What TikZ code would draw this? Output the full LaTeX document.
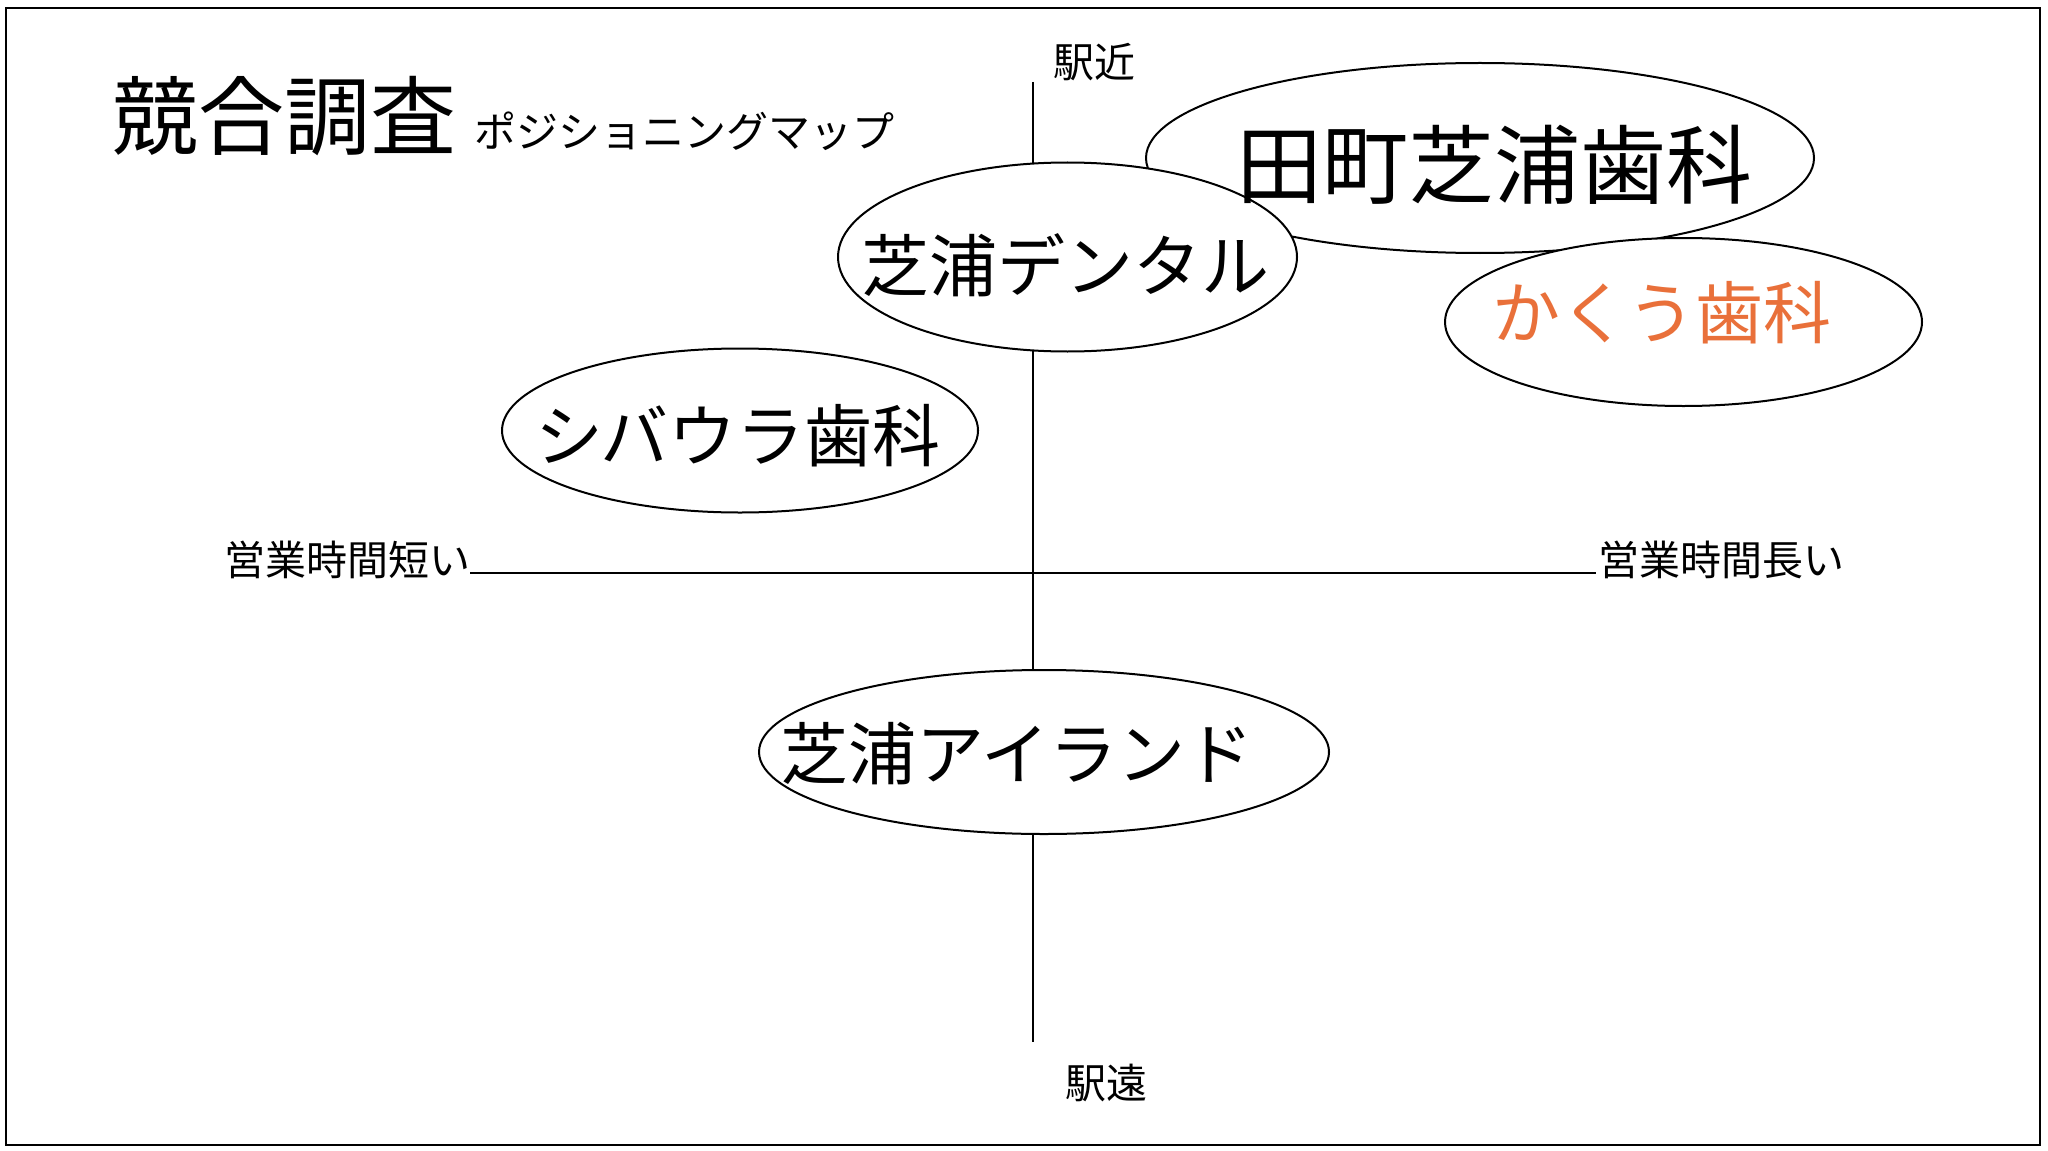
\documentclass[tikz,border=0pt]{standalone}
\usepackage{fontspec}
\newfontfamily\jp{Noto Sans CJK JP}
\usetikzlibrary{shapes.geometric}
\definecolor{kakuorange}{RGB}{233,112,58}
\begin{document}
\begin{tikzpicture}[x=0.5pt,y=-0.5pt,
  oval/.style={ellipse,draw=black,line width=1pt,fill=white,inner sep=0pt},
  bigtxt/.style={font=\jp\fontsize{43}{50}\selectfont,inner sep=0pt,anchor=center},
  midtxt/.style={font=\jp\fontsize{34}{40}\selectfont,inner sep=0pt,anchor=center},
  smalltxt/.style={font=\jp\fontsize{20.5}{24}\selectfont,inner sep=0pt,anchor=center},
  axis/.style={line width=0.75pt,black}]
\useasboundingbox (0,0) rectangle (2048,1150);
\fill[white] (0,0) rectangle (2048,1150);
\draw[line width=1.1pt] (6,8) rectangle (2040,1145);
% axes
\coordinate (vtop) at (1033,82);
\coordinate (vbot) at (1033,1042);
\coordinate (hleft) at (470,573);
\coordinate (hright) at (1596,573);
\draw[axis] (vtop) -- (vbot);
\draw[axis,line width=0.9pt] (hleft) -- (hright);
% axis labels
\node[smalltxt] (near) at (1094,62) {駅近};
\node[smalltxt] (far) at (1106,1083) {駅遠};
\node[smalltxt] (short) at (347,560) {営業時間短い};
\node[smalltxt] (long) at (1721,560) {営業時間長い};
% title
\node[bigtxt] (title) at (284,116) {競合調査};
\node[smalltxt,font=\jp\fontsize{21}{24}\selectfont] (subtitle) at (684.5,131) {ポジショニングマップ};
% ellipses
\node[oval,minimum width=334pt,minimum height=95pt] (e1) at (1480,158) {};
\node[oval,minimum width=229.5pt,minimum height=94.5pt] (e2) at (1067.5,257) {};
\node[oval,minimum width=238.5pt,minimum height=84pt] (e3) at (1683.5,322) {};
\node[oval,minimum width=238pt,minimum height=82pt] (e4) at (740,430.5) {};
\node[oval,minimum width=285pt,minimum height=82pt] (e5) at (1044,752) {};
% texts
\node[bigtxt] (t1) at (1494,165) {田町芝浦歯科};
\node[midtxt] (t2) at (1065,265) {芝浦デンタル};
\node[midtxt,text=kakuorange] (t3) at (1662,313) {かくう歯科};
\node[midtxt] (t4) at (738,436) {シバウラ歯科};
\node[midtxt] (t5) at (1017,754) {芝浦アイランド};
\end{tikzpicture}
\end{document}
